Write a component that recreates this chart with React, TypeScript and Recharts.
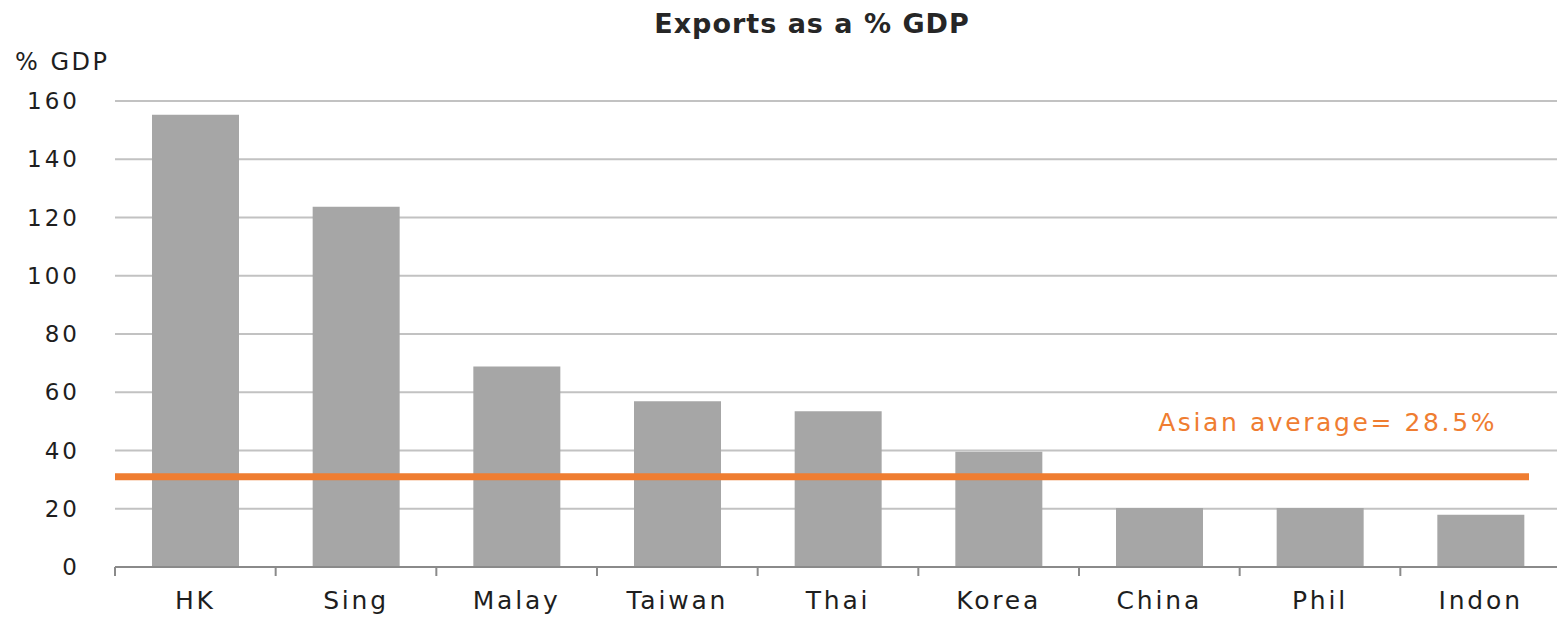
import { Bar, BarChart, CartesianGrid, ReferenceLine, XAxis, YAxis } from "recharts";

// Exports as a share of GDP.
const countries = ["HK", "Sing", "Malay", "Taiwan", "Thai", "Korea", "China", "Phil", "Indon"];
const exportsPctGdp = [155.3, 123.7, 68.8, 56.9, 53.5, 39.6, 20.3, 20.3, 17.9];
const yTicks = [0, 20, 40, 60, 80, 100, 120, 140, 160];
// The line sits a little above 28.5 in the source, so keep where it is drawn.
const asianAverageLine = 31;
const asianAverageLabel = "Asian average= 28.5%";

const W = 1557;
const H = 619;
const LEFT = 115;
const RIGHT = -4; // the source plot runs a few pixels past the picture edge
const BAND = (W - LEFT - RIGHT) / countries.length;

const FONT = "'DejaVu Sans', Verdana, sans-serif";
const INK = "#1e1e1e";
const ORANGE = "#EF7D31";

const data = countries.map((name, i) => ({ name, value: exportsPctGdp[i] }));

// Category label at the band centre plus a tick mark at the left band boundary.
function CategoryTick(props: any) {
  const { x, y, payload } = props;
  const axisY = y - 24;
  return (
    <g>
      <line x1={x - BAND / 2} x2={x - BAND / 2} y1={axisY} y2={axisY + 9} stroke="#8a8a8a" strokeWidth={2} />
      <text
        x={x}
        y={y}
        dy="0.71em"
        textAnchor="middle"
        fill={INK}
        style={{ fontFamily: FONT, fontSize: 25, letterSpacing: 2.8 }}
      >
        {payload.value}
      </text>
    </g>
  );
}

function AverageLabel(props: any) {
  const { viewBox } = props;
  return (
    <text
      x={viewBox.x + viewBox.width - 64}
      y={viewBox.y - 46}
      textAnchor="end"
      fill={ORANGE}
      style={{ fontFamily: FONT, fontSize: 25, letterSpacing: 2.6 }}
    >
      {asianAverageLabel}
    </text>
  );
}

// The average line stops a little short of the right edge of the plot.
function AverageLine(props: any) {
  const { x1, x2, y1, y2 } = props;
  return <line x1={x1} x2={x2 - 32} y1={y1} y2={y2} stroke={ORANGE} strokeWidth={7} />;
}

export default function App() {
  return (
    <div style={{ position: "relative", width: W, height: H, background: "#fff", overflow: "hidden" }}>
      <style>{`body{margin:0}`}</style>
      <BarChart
        width={W}
        height={H}
        data={data}
        margin={{ top: 101, right: RIGHT, bottom: 0, left: 0 }}
        barCategoryGap={37}
      >
        <CartesianGrid vertical={false} stroke="#c2c2c2" strokeWidth={2} />
        <XAxis
          dataKey="name"
          height={52}
          axisLine={{ stroke: "#8a8a8a", strokeWidth: 2 }}
          tickLine={false}
          tickSize={0}
          tickMargin={24}
          tick={<CategoryTick />}
          interval={0}
        />
        <YAxis
          width={LEFT}
          domain={[0, 160]}
          ticks={yTicks}
          axisLine={false}
          tickLine={false}
          tickMargin={29}
          tick={{ fill: INK, fontSize: 23, fontFamily: FONT, letterSpacing: 3 }}
        />
        <Bar dataKey="value" fill="#a6a6a6" isAnimationActive={false} />
        <ReferenceLine
          y={asianAverageLine}
          stroke={ORANGE}
          strokeWidth={7}
          shape={<AverageLine />}
          label={<AverageLabel />}
        />
      </BarChart>
      <svg
        width={W}
        height={H}
        style={{ position: "absolute", left: 0, top: 0, pointerEvents: "none" }}
      >
        <text
          x={812}
          y={33}
          textAnchor="middle"
          fill="#262626"
          style={{ fontFamily: FONT, fontSize: 27, fontWeight: 700, letterSpacing: 1 }}
        >
          Exports as a % GDP
        </text>
        <text
          x={15}
          y={70}
          fill={INK}
          style={{ fontFamily: FONT, fontSize: 24, letterSpacing: 2.5 }}
        >
          % GDP
        </text>
      </svg>
    </div>
  );
}
